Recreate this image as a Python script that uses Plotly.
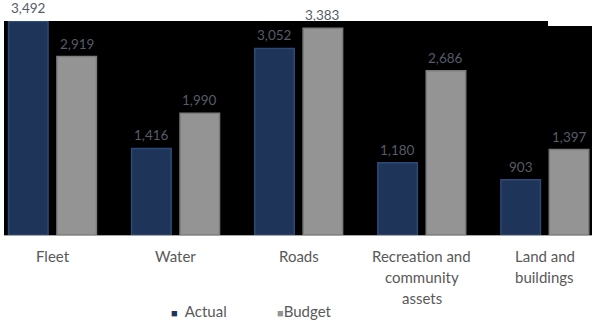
import plotly.graph_objects as go

# Capital spend by asset category (R'000)
categories = ["Fleet", "Water", "Roads", "Recreation and<br>community<br>assets", "Land and<br>buildings"]
actual = [3492, 1416, 3052, 1180, 903]
budget = [2919, 1990, 3383, 2686, 1397]
series_names = ["Actual", "Budget"]

ACTUAL_FILL = "#1e3459"
ACTUAL_EDGE = "#2d4a76"
BUDGET_FILL = "#949494"
BUDGET_EDGE = "#7c7c7c"
TEXT = "#595959"
LABEL = "#565c68"
FONT = "Lato, 'Noto Sans', sans-serif"

W, H = 592, 321
M_L, M_R, M_T, M_B = 4, 0, 21, 86
PLOT_W = W - M_L - M_R
PLOT_H = H - M_T - M_B

x = list(range(len(categories)))
bar_w = 0.321
offsets = [-0.357, 0.036]

fig = go.Figure()
for name, vals, fill, edge, off in [
    (series_names[0], actual, ACTUAL_FILL, ACTUAL_EDGE, offsets[0]),
    (series_names[1], budget, BUDGET_FILL, BUDGET_EDGE, offsets[1]),
]:
    fig.add_trace(go.Bar(
        x=x, y=vals, name=name, width=bar_w, offset=off,
        marker=dict(color=fill, line=dict(color=edge, width=1.5)),
        showlegend=False, hoverinfo="skip",
    ))

annotations = []
# value labels above each bar
for vals, off in [(actual, offsets[0]), (budget, offsets[1])]:
    for i, v in enumerate(vals):
        annotations.append(dict(
            x=i + off + bar_w / 2, y=v, xref="x", yref="y",
            text=f"{v:,}", showarrow=False, yanchor="bottom", yshift=3,
            font=dict(family=FONT, size=13.5, color=LABEL),
        ))

# category labels, one annotation per line
for i, cat in enumerate(categories):
    for k, line in enumerate(cat.split("<br>")):
        annotations.append(dict(
            x=i, y=0, xref="x", yref="y", text=line, showarrow=False,
            yanchor="middle", yshift=-21 - 21 * k,
            font=dict(family=FONT, size=15, color=TEXT),
        ))

# legend entries below the category labels
legend_y = (H - M_B - 311) / PLOT_H
for name, color, xpx, gap in [(series_names[0], ACTUAL_FILL, 169, "&nbsp;&nbsp;"),
                              (series_names[1], BUDGET_FILL, 275, "")]:
    annotations.append(dict(
        x=(xpx - M_L) / PLOT_W, y=legend_y, xref="paper", yref="paper",
        xanchor="left", yanchor="middle", showarrow=False,
        text=f"<span style='color:{color};font-size:11px'>■</span>{gap}{name}",
        font=dict(family=FONT, size=15, color=TEXT),
    ))

fig.update_layout(
    width=W, height=H,
    margin=dict(l=M_L, r=M_R, t=M_T, b=M_B),
    paper_bgcolor="white", plot_bgcolor="black",
    barmode="overlay",
    annotations=annotations,
    xaxis=dict(range=[-0.394, 4.383], showticklabels=False, showgrid=False,
               zeroline=False, showline=True, linecolor="#a6a6a6", linewidth=1,
               fixedrange=True),
    yaxis=dict(range=[0, 3500], showticklabels=False, showgrid=False,
               zeroline=False, showline=False, fixedrange=True),
    shapes=[dict(type="rect", xref="paper", yref="paper",
                 x0=(548 - M_L) / PLOT_W, x1=1.0, y0=(H - M_B - 26) / PLOT_H, y1=1.0,
                 fillcolor="white", line=dict(width=0), layer="above")],
    showlegend=False,
)

fig.write_html("out.html")
